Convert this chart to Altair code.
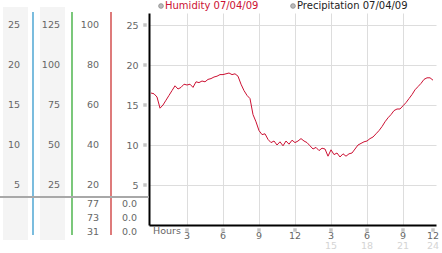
import altair as alt
import pandas as pd

# ---------------- data ----------------
hours = [i * 0.25 for i in range(95)]
humidity = [16.5, 16.4, 16.0, 14.6, 15.0, 15.6, 16.2, 16.8, 17.4, 17.0,
            17.2, 17.6, 17.5, 17.6, 17.2, 17.9, 17.8, 18.0, 17.9, 18.2,
            18.3, 18.5, 18.6, 18.8, 18.8, 18.9, 19.0, 18.8, 18.9, 18.6,
            17.6, 16.8, 16.2, 15.8, 13.8, 12.9, 11.8, 11.3, 11.4, 10.7,
            10.3, 10.5, 10.0, 10.4, 9.9, 10.5, 10.1, 10.6, 10.3, 10.5,
            10.8, 10.5, 10.3, 9.9, 9.5, 9.7, 9.3, 9.6, 9.5, 8.6,
            9.4, 8.8, 9.0, 8.5, 8.9, 8.6, 8.9, 9.0, 9.5, 10.0,
            10.2, 10.4, 10.5, 10.8, 11.0, 11.4, 11.8, 12.3, 12.9, 13.4,
            13.8, 14.3, 14.5, 14.5, 14.9, 15.3, 15.8, 16.3, 16.9, 17.3,
            17.7, 18.2, 18.4, 18.4, 18.1]

levels = [5, 10, 15, 20, 25]
col1_labels = ["5", "10", "15", "20", "25"]
col2_labels = ["25", "50", "75", "100", "125"]
col3_labels = ["20", "40", "60", "80", "100"]

stat_col3 = ["77", "73", "31"]
stat_col4 = ["0.0", "0.0", "0.0"]

tick_hours = [3, 6, 9, 12, 15, 18, 21, 24]
tick_labels = ["3", "6", "9", "12", "3", "6", "9", "12"]
tick_sub = ["", "", "", "", "15", "18", "21", "24"]

legend_names = ["Humidity 07/04/09", "Precipitation 07/04/09"]

FONT = "DejaVu Sans"
LBL = "#666666"

line_df = pd.DataFrame({"h": hours, "v": humidity})
lev_df = pd.DataFrame({"lev": levels, "c1": col1_labels, "c2": col2_labels, "c3": col3_labels})
tick_df = pd.DataFrame({"h": tick_hours, "lab": tick_labels, "sub": tick_sub})
one = pd.DataFrame({"a": [0]})

X = alt.X("h:Q", scale=alt.Scale(domain=[-2 / 12, 23.75], nice=False, zero=False),
          axis=alt.Axis(values=[3, 6, 9, 12, 15, 18, 21], labels=False, ticks=False,
                        title=None, grid=True, gridColor="#dddddd",
                        domainColor="#000000", domainWidth=2))
Y = alt.Y("v:Q", scale=alt.Scale(domain=[0, 26.5], nice=False, zero=False),
          axis=alt.Axis(values=levels, ticks=False, title=None, grid=True,
                        gridColor="#dddddd", domainColor="#000000", domainWidth=2,
                        labelColor=LBL, labelFont=FONT, labelFontSize=9.5,
                        labelPadding=11, labelFlush=False))

yscale = alt.Scale(domain=[0, 26.5], nice=False, zero=False)
xscale = alt.Scale(domain=[-2 / 12, 23.75], nice=False, zero=False)

layers = []

# background columns on the left
for x0, x1 in [(-146, -121), (-109, -84)]:
    layers.append(alt.Chart(one).mark_rect(color="#f4f4f4").encode(
        x=alt.value(x0), x2=alt.value(x1), y=alt.value(-6), y2=alt.value(227)))

# colored separators
for xp, col in [(-116, "#3399cc"), (-77, "#33aa33"), (-38, "#cc3333")]:
    layers.append(alt.Chart(one).mark_rule(color=col, strokeWidth=1.3).encode(
        x=alt.value(xp), y=alt.value(-1), y2=alt.value(222)))

# gray horizontal separator
layers.append(alt.Chart(one).mark_rule(color="#a8a8a8", strokeWidth=2).encode(
    x=alt.value(-149), x2=alt.value(0), y=alt.value(184)))

# main line (with axes)
main = alt.Chart(line_df).mark_line(color="#cc1133", strokeWidth=1).encode(x=X, y=Y)
layers.append(main)

# left column labels
for field, xr in [("c1", -129), ("c2", -89), ("c3", -50)]:
    layers.append(alt.Chart(lev_df).mark_text(
        align="right", baseline="middle", font=FONT, fontSize=9.5, color=LBL).encode(
        x=alt.value(xr), y=alt.Y("lev:Q", scale=yscale), text=f"{field}:N"))

# y axis small markers
layers.append(alt.Chart(lev_df).mark_square(size=12, color="#c4c4c4", opacity=1).encode(
    x=alt.value(-4), y=alt.Y("lev:Q", scale=yscale)))

# stats rows
for txt, xr in [("\n".join(stat_col3), -50), ("\n".join(stat_col4), -12)]:
    layers.append(alt.Chart(pd.DataFrame({"t": [txt]})).mark_text(
        align="right", baseline="top", font=FONT, fontSize=9.5, color=LBL,
        lineBreak="\n", lineHeight=14).encode(
        x=alt.value(xr), y=alt.value(186), text="t:N"))

# x axis labels
tick_base = alt.Chart(tick_df).transform_calculate(pos="min(datum.h, 23.5)")
layers.append(tick_base.mark_square(size=12, color="#c4c4c4", opacity=1).encode(
    x=alt.X("pos:Q", scale=xscale), y=alt.value(217)))
layers.append(tick_base.mark_text(
    align="center", baseline="middle", font=FONT, fontSize=9.5, color=LBL).encode(
    x=alt.X("pos:Q", scale=xscale), y=alt.value(223), text="lab:N"))
layers.append(tick_base.mark_text(
    align="center", baseline="middle", font=FONT, fontSize=9.5, color="#d4d4d4").encode(
    x=alt.X("pos:Q", scale=xscale), y=alt.value(233), text="sub:N"))
layers.append(alt.Chart(pd.DataFrame({"t": ["Hours"]})).mark_text(
    align="left", baseline="middle", font=FONT, fontSize=9.5, color=LBL).encode(
    x=alt.value(4), y=alt.value(218), text="t:N"))

# legend
for name, cx, tcol in [(legend_names[0], 12, "#cc1133"), (legend_names[1], 144, "#222222")]:
    layers.append(alt.Chart(one).mark_circle(size=22, color="#bbbbbb", opacity=1,
                                             stroke="#888888", strokeWidth=0.8).encode(
        x=alt.value(cx), y=alt.value(-7)))
    layers.append(alt.Chart(pd.DataFrame({"t": [name]})).mark_text(
        align="left", baseline="middle", font=FONT, fontSize=10, color=tcol).encode(
        x=alt.value(cx + 4), y=alt.value(-7), text="t:N"))

chart = alt.layer(*layers).properties(
    width=287, height=212,
    autosize=alt.AutoSizeParams(type="none"),
    padding={"left": 149, "top": 13, "right": 6, "bottom": 28},
    background="white",
).configure_view(stroke=None)

chart.save("out.html", embed_options={"renderer": "svg", "actions": False})
